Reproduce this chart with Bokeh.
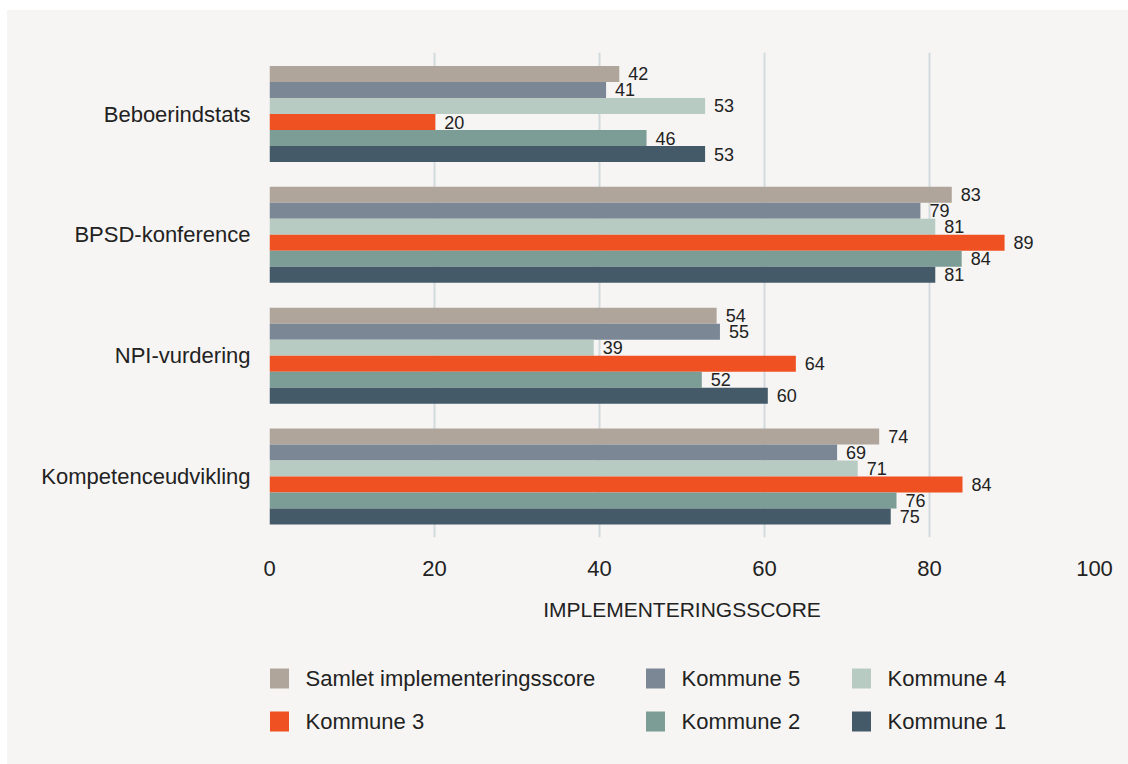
from bokeh.plotting import figure
from bokeh.models import Range1d, FixedTicker, ColumnDataSource
from bokeh.layouts import column
from bokeh.embed import file_html
from bokeh.resources import INLINE
from bokeh.core.properties import value

categories = ["Beboerindstats", "BPSD-konference", "NPI-vurdering", "Kompetenceudvikling"]
series_names = ["Samlet implementeringsscore", "Kommune 5", "Kommune 4", "Kommune 3", "Kommune 2", "Kommune 1"]
colors = ["#b0a59b", "#7c8796", "#b7cbc2", "#f05123", "#7b9d95", "#455a68"]

samlet = [42.4, 82.7, 54.2, 73.9]
kommune5 = [40.8, 78.9, 54.6, 68.8]
kommune4 = [52.8, 80.7, 39.3, 71.3]
kommune3 = [20.1, 89.1, 63.8, 84.0]
kommune2 = [45.7, 83.9, 52.4, 76.0]
kommune1 = [52.8, 80.7, 60.4, 75.3]
series_values = [samlet, kommune5, kommune4, kommune3, kommune2, kommune1]

x_ticks = [0, 20, 40, 60, 80, 100]

BG = "#f6f5f3"
FONT = "Liberation Sans"
TXT = "#222222"

W = 1121
BL, BR = 262, 34
p = figure(width=W, height=638, output_backend="svg", toolbar_location=None,
           x_range=Range1d(0, 100), y_range=Range1d(-0.505, 3.509),
           min_border_left=BL, min_border_right=BR, min_border_top=42,
           min_border_bottom=111)
p.background_fill_color = BG
p.border_fill_color = BG
p.outline_line_color = None

n_cat = len(categories)
band = 0.1325
for j, (name, vals, col) in enumerate(zip(series_names, series_values, colors)):
    ys = [(n_cat - 1 - i) + (2.5 - j) * band for i in range(n_cat)]
    src = ColumnDataSource(dict(y=ys, right=vals, lab=[str(int(round(v))) for v in vals]))
    p.hbar(y="y", left=0, right="right", height=band, source=src,
           fill_color=col, line_color=None)
    p.text(x="right", y="y", text="lab", source=src, x_offset=9,
           text_baseline="middle", text_align="left", text_font=value(FONT),
           text_font_size="18px", text_color=TXT)

p.xaxis.ticker = FixedTicker(ticks=x_ticks)
p.xaxis.axis_line_color = None
p.xaxis.major_tick_line_color = None
p.xaxis.major_tick_out = 0
p.xaxis.major_tick_in = 0
p.xaxis.minor_tick_line_color = None
p.xaxis.major_label_text_font = FONT
p.xaxis.major_label_text_font_size = "22px"
p.xaxis.major_label_text_color = TXT
p.xaxis.major_label_standoff = 23
p.xaxis.axis_label = "IMPLEMENTERINGSSCORE"
p.xaxis.axis_label_text_font = FONT
p.xaxis.axis_label_text_font_size = "21px"
p.xaxis.axis_label_text_font_style = "normal"
p.xaxis.axis_label_text_color = TXT
p.xaxis.axis_label_standoff = 19

p.yaxis.ticker = FixedTicker(ticks=list(range(n_cat)))
p.yaxis.major_label_overrides = {n_cat - 1 - i: c for i, c in enumerate(categories)}
p.yaxis.axis_line_color = None
p.yaxis.major_tick_line_color = None
p.yaxis.major_tick_out = 0
p.yaxis.major_tick_in = 0
p.yaxis.minor_tick_line_color = None
p.yaxis.major_label_text_font = FONT
p.yaxis.major_label_text_font_size = "22px"
p.yaxis.major_label_text_color = TXT
p.yaxis.major_label_standoff = 19

p.xgrid.grid_line_color = "#d3dadd"
p.xgrid.grid_line_width = 2
p.ygrid.grid_line_color = None

# legend figure: same borders so the frames align; coordinates in page pixels
lg = figure(width=W, height=116, output_backend="svg", toolbar_location=None,
            x_range=Range1d(269, 1094), y_range=Range1d(764, 648),
            min_border_left=BL, min_border_right=BR, min_border_top=0,
            min_border_bottom=0)
lg.background_fill_color = BG
lg.border_fill_color = BG
lg.outline_line_color = None
lg.axis.visible = False
lg.grid.visible = False
col_x = [279, 655, 861]
row_y = [678, 721]
for k, (name, col) in enumerate(zip(series_names, colors)):
    cx = col_x[k % 3]
    cy = row_y[k // 3]
    src = ColumnDataSource(dict(x=[cx], y=[cy], t=[name], tx=[cx + 26]))
    lg.rect(x="x", y="y", width=19, height=20, source=src, fill_color=col, line_color=None)
    lg.text(x="tx", y="y", text="t", source=src, text_baseline="middle",
            text_align="left", text_font=value(FONT), text_font_size="22px",
            text_color=TXT)

layout = column(p, lg, spacing=0)
layout.styles = {"background-color": BG, "margin-left": "7px", "margin-top": "10px"}

open("out.html", "w").write(file_html(layout, INLINE))
